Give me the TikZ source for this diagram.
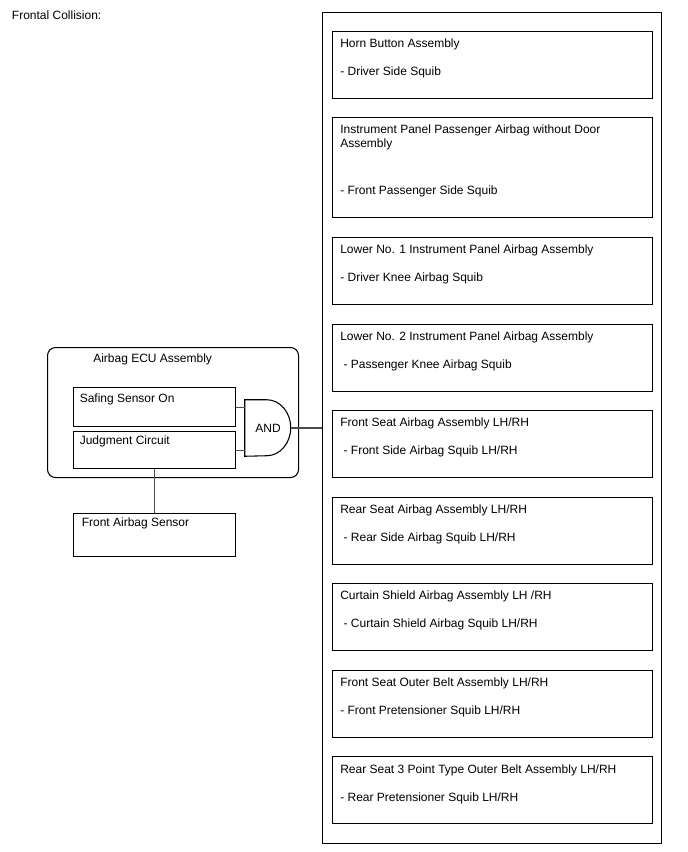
\documentclass[tikz,border=0pt]{standalone}
\usepackage{fontspec}
\setmainfont{Liberation Sans}
\usepackage{tikz}
\usetikzlibrary{positioning}
\newcommand{\diafont}{\fontsize{9}{10.5}\selectfont}
\tikzset{
  squibbox/.style={rectangle, draw=black, line width=0.8pt, anchor=north west, inner sep=0pt, minimum width=240pt, minimum height=50pt},
  ecubox/.style  ={rectangle, draw=black, line width=0.8pt, anchor=north west, inner sep=0pt, minimum width=121.5pt},
  boxtext/.style ={anchor=base west, align=left, inner sep=0pt, font=\diafont},
  squibtext/.style={anchor=north west, align=left, inner sep=0pt, font=\diafont},
  wire/.style    ={draw=black!70, line width=0.8pt},
}
\begin{document}
\begin{tikzpicture}[x=0.75pt, y=-0.75pt]
\useasboundingbox (0,0) rectangle (688,852);
\node[boxtext] (title) at (11.7,19.3) {Frontal Collision:};
% --- right column: squibs ---
\node[rectangle, draw=black, line width=0.8pt, anchor=north west, inner sep=0pt, minimum width=254.25pt, minimum height=623.25pt] (frame) at (322,12) {};
\node[squibbox] (horn) at (332,31) {};
\node[squibbox, minimum height=75pt] (ipp) at (332,117) {};
\node[squibbox] (low1) at (332,237) {};
\node[squibbox] (low2) at (332,324) {};
\node[squibbox] (fseat) at (332,410) {};
\node[squibbox] (rseat) at (332,497) {};
\node[squibbox] (curt) at (332,583) {};
\node[squibbox] (fbelt) at (332,670) {};
\node[squibbox] (rbelt) at (332,756) {};
\node[squibtext] (hornT) at ([shift={(8,7.3)}]horn.north west) {Horn Button Assembly\\[10.5pt]- Driver Side Squib};
\node[squibtext] (ippT) at ([shift={(8,7.3)}]ipp.north west) {Instrument Panel Passenger Airbag without Door\\Assembly\\[25.3pt]- Front Passenger Side Squib};
\node[squibtext] (low1T) at ([shift={(8,7.3)}]low1.north west) {Lower No. 1 Instrument Panel Airbag Assembly\\[10.5pt]- Driver Knee Airbag Squib};
\node[squibtext] (low2T) at ([shift={(8,7.3)}]low2.north west) {Lower No. 2 Instrument Panel Airbag Assembly\\[10.5pt]\ - Passenger Knee Airbag Squib};
\node[squibtext] (fseatT) at ([shift={(8,7.3)}]fseat.north west) {Front Seat Airbag Assembly LH/RH\\[10.5pt]\ - Front Side Airbag Squib LH/RH};
\node[squibtext] (rseatT) at ([shift={(8,7.3)}]rseat.north west) {Rear Seat Airbag Assembly LH/RH\\[10.5pt]\ - Rear Side Airbag Squib LH/RH};
\node[squibtext] (curtT) at ([shift={(8,7.3)}]curt.north west) {Curtain Shield Airbag Assembly LH /RH\\[10.5pt]\ - Curtain Shield Airbag Squib LH/RH};
\node[squibtext] (fbeltT) at ([shift={(8,7.3)}]fbelt.north west) {Front Seat Outer Belt Assembly LH/RH\\[10.5pt]- Front Pretensioner Squib LH/RH};
\node[squibtext] (rbeltT) at ([shift={(8,8.8)}]rbelt.north west) {Rear Seat 3 Point Type Outer Belt Assembly LH/RH\\[10.5pt]- Rear Pretensioner Squib LH/RH};
% --- left: airbag ECU ---
\node[rectangle, rounded corners=6pt, draw=black, line width=0.8pt, anchor=north west, minimum width=188.25pt, minimum height=97.5pt] (ecu) at (47,347) {};
\node[boxtext] (ecuT) at (93,362.7) {Airbag ECU Assembly};
\node[ecubox, minimum height=29.25pt] (safing) at (73,387) {};
\node[ecubox, minimum height=27.75pt] (judge) at (73,431) {};
\node[ecubox, minimum height=32.25pt] (fsensor) at (73,513) {};
\node[boxtext] (safingT) at (79.5,402) {Safing Sensor On};
\node[boxtext] (judgeT) at (79.5,444) {Judgment Circuit};
\node[boxtext] (fsensorT) at (81.5,526) {Front Airbag Sensor};
% --- AND gate ---
\node[inner sep=0pt, minimum width=34.5pt, minimum height=42pt, font=\diafont] (andg) at (268,428) {AND};
\draw[line width=0.8pt] (andg.north west) -- ++(22,0) arc[start angle=90, end angle=-90, x radius=18pt, y radius=21pt] -- (andg.south west) -- cycle;
% --- wires ---
\draw[wire] (safing.east) -- (safing.east -| andg.west);
\draw[wire] (judge.east) -- (judge.east -| andg.west);
\draw[wire] (andg.east) -- (andg.east -| frame.west);
\draw[wire] (judge.south) -- (fsensor.north);
\end{tikzpicture}
\end{document}
